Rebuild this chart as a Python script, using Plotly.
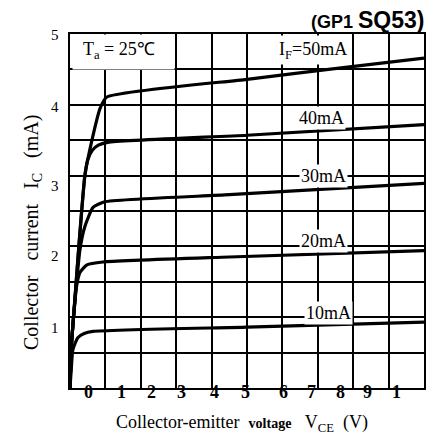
import plotly.graph_objects as go

# ---- data ----
v50 = [0, 0.04, 0.1, 0.25, 0.42, 0.62, 0.85, 1.04, 5, 7.3, 10]
i50 = [0, 0.6, 1.0, 2.0, 3.0, 3.5, 3.95, 4.11, 4.36, 4.5, 4.66]
v40 = [0, 0.04, 0.1, 0.25, 0.42, 0.5, 0.62, 0.8, 1.07, 5, 10]
i40 = [0, 0.6, 1.0, 2.0, 3.0, 3.22, 3.35, 3.43, 3.47, 3.57, 3.72]
v30 = [0, 0.04, 0.11, 0.28, 0.42, 0.65, 0.98, 4.5, 10]
i30 = [0, 0.6, 1.05, 1.95, 2.28, 2.55, 2.63, 2.73, 2.89]
v20 = [0, 0.04, 0.11, 0.17, 0.28, 0.48, 0.93, 4.5, 10]
i20 = [0, 0.6, 1.06, 1.39, 1.63, 1.74, 1.78, 1.85, 1.94]
v10 = [0, 0.04, 0.08, 0.22, 0.4, 0.65, 5, 10]
i10 = [0, 0.3, 0.54, 0.71, 0.77, 0.8, 0.86, 0.93]

series = [(v50, i50), (v40, i40), (v30, i30), (v20, i20), (v10, i10)]

curve_labels = ["40mA", "30mA", "20mA", "10mA"]
curve_label_x = [7.1, 7.16, 7.16, 7.3]
curve_label_y = [3.82, 3.0, 2.08, 1.06]

x_tick_text = ["\u201c", "0", "1", "2", "3", "4", "5", "6", "7", "8", "9", "1", "0"]
x_tick_pos = [-0.29, 0.52, 1.45, 2.29, 3.16, 4.09, 4.96, 6.03, 6.81, 7.63, 8.41, 9.23, 10.04]
y_tick_text = ["5", "4", "3", "2", "1", "0"]
y_tick_pos = [4.98, 3.97, 2.86, 1.87, 0.85, -0.08]

SERIF = "Liberation Serif, Times New Roman, serif"
SANS = "Liberation Sans, Arial, sans-serif"
NB = "\u00a0"

fig = go.Figure()
for vx, iy in series:
    fig.add_trace(go.Scatter(x=vx, y=iy, mode="lines",
                             line=dict(color="black", width=3.2, shape="spline", smoothing=0.5),
                             showlegend=False, hoverinfo="skip"))

ann = []
# white boxes in the top row (hide grid behind the labels)
ann.append(dict(x=1.5, y=4.75, xref="x", yref="y", text=NB * 20, showarrow=False,
                width=99, height=32, bgcolor="white", font=dict(size=10, color="white")))
ann.append(dict(x=6.5, y=4.77, xref="x", yref="y", text=NB * 20, showarrow=False,
                width=99, height=26, bgcolor="white", font=dict(size=10, color="white")))
ann.append(dict(x=0.3, y=4.76, xref="x", yref="y", xanchor="left",
                text="T<sub>a</sub>" + NB + "=" + NB + "25\u2103", showarrow=False,
                font=dict(family=SERIF, size=18, color="black")))
ann.append(dict(x=6.86, y=4.76, xref="x", yref="y",
                text="I<sub>F</sub>=50mA", showarrow=False,
                font=dict(family=SERIF, size=18, color="black")))
for t, lx, ly in zip(curve_labels, curve_label_x, curve_label_y):
    ann.append(dict(x=lx, y=ly, xref="x", yref="y", text=t, showarrow=False,
                    bgcolor="white", borderpad=1,
                    font=dict(family=SERIF, size=18, color="black")))
# tick labels
for t, p in zip(x_tick_text, x_tick_pos):
    ann.append(dict(x=p, y=-0.044, xref="x", yref="paper", text="<b>" + t + "</b>",
                    showarrow=False, font=dict(family=SERIF, size=18, color="black")))
for t, p in zip(y_tick_text, y_tick_pos):
    ann.append(dict(x=-0.026, y=p, xref="paper", yref="y", text=t, xanchor="right",
                    showarrow=False, font=dict(family=SERIF, size=15, color="black")))
# axis titles
ann.append(dict(x=0.485, y=-0.138, xref="paper", yref="paper",
                text="Collector-emitter" + NB * 2 + "<b><span style='font-size:14px'>voltage</span></b>" + NB * 3
                     + "V<sub>CE</sub>" + NB * 2 + "(V)",
                showarrow=False, font=dict(family=SERIF, size=18, color="black")))
ann.append(dict(x=-0.149, y=0.44, xref="paper", yref="paper", textangle=-90,
                text="Collector" + NB * 3 + "current" + NB * 3 + "I<sub>C</sub>" + NB * 3 + "(mA)",
                showarrow=False, font=dict(family=SERIF, size=20, color="black")))
# header texts
ann.append(dict(x=1.008, y=1.04, xref="paper", yref="paper", xanchor="right", yanchor="middle",
                text="<b>(GP1 <span style='font-size:23px'>SQ53)</span></b>",
                showarrow=False, font=dict(family=SANS, size=18, color="black")))
ann.append(dict(x=0.304, y=1.09, xref="paper", yref="paper", xanchor="right", yanchor="bottom",
                text="<b>Voltage</b>", showarrow=False,
                font=dict(family=SANS, size=22, color="black")))

fig.update_layout(
    width=433, height=446,
    margin=dict(l=70, r=7, t=34, b=58),
    paper_bgcolor="white", plot_bgcolor="white",
    annotations=ann,
    xaxis=dict(range=[0, 10], tick0=0, dtick=1, showticklabels=False, ticks="",
               showgrid=True, gridcolor="black", gridwidth=2, zeroline=False,
               showline=True, linecolor="black", linewidth=2.4, mirror=True, fixedrange=True),
    yaxis=dict(range=[0, 5], tick0=0, dtick=0.5, showticklabels=False, ticks="",
               showgrid=True, gridcolor="black", gridwidth=2, zeroline=False,
               showline=True, linecolor="black", linewidth=2.4, mirror=True, fixedrange=True),
)

fig.write_html("out.html")
